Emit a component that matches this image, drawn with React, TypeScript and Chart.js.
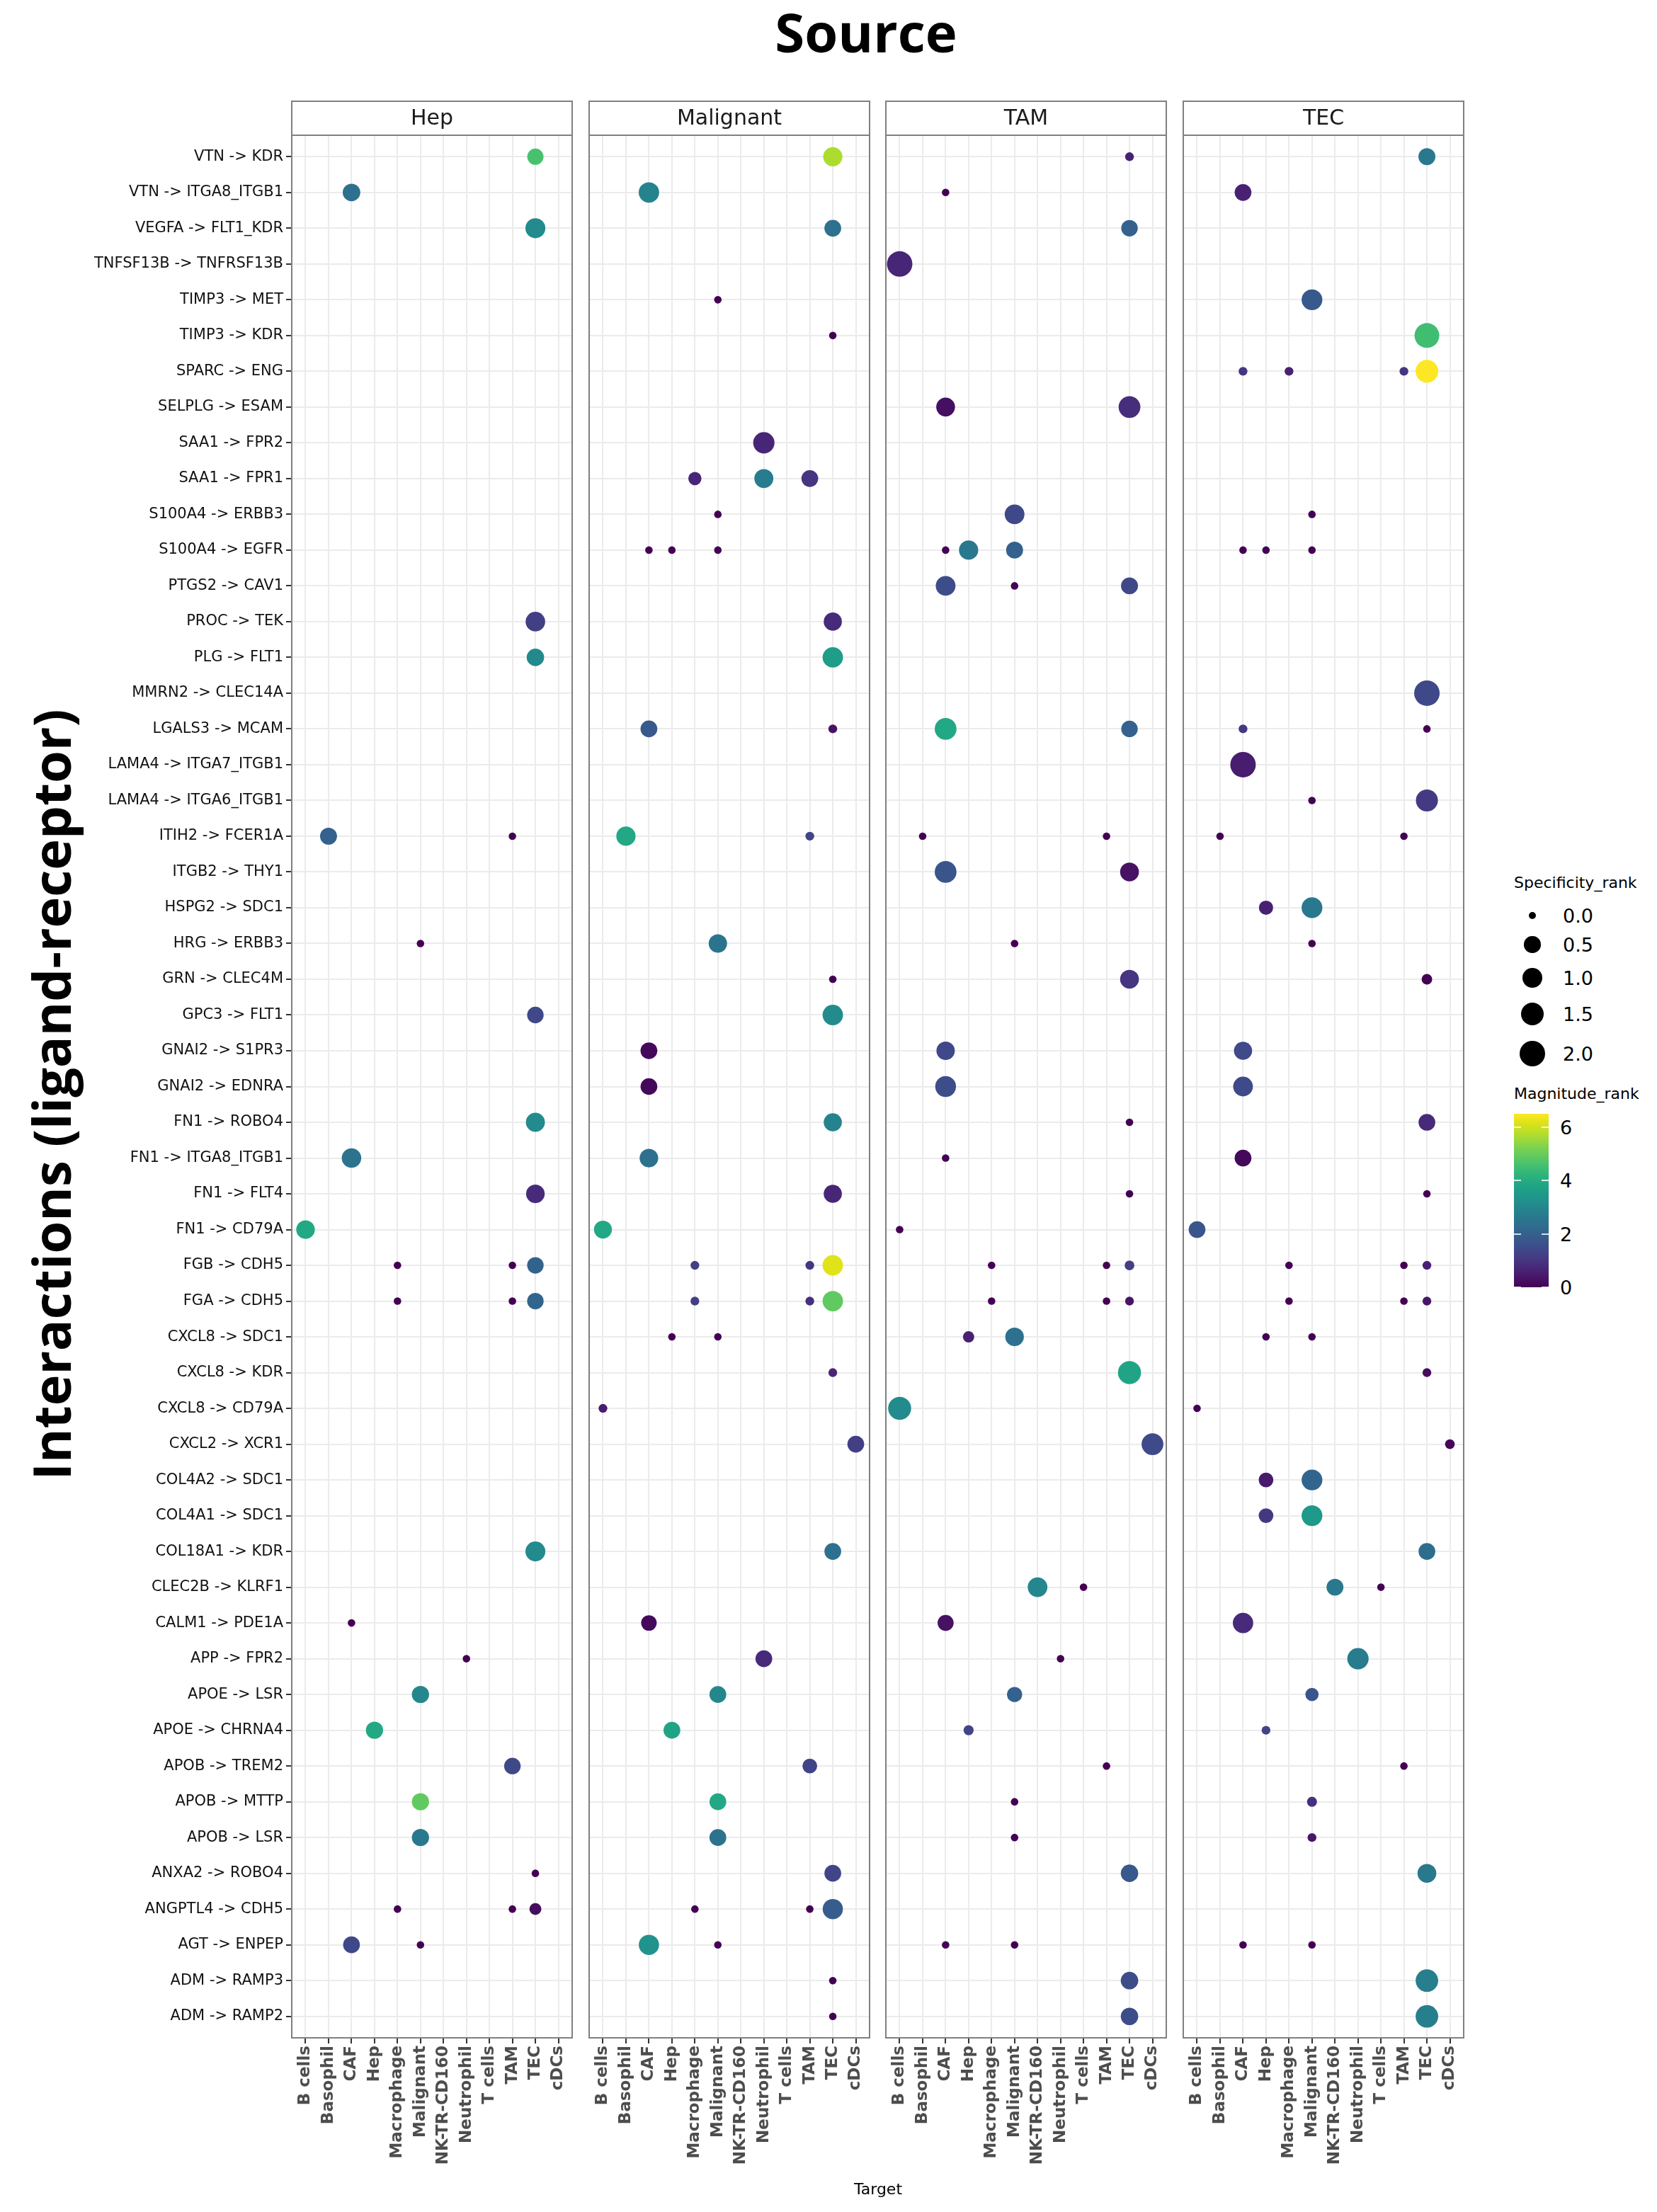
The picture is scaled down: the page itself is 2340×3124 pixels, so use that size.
import React, { useEffect, useRef } from "react";
import { Chart, registerables } from "chart.js";

Chart.register(...registerables);

// ---------------- data ----------------
const targets = [
  "B cells", "Basophil", "CAF", "Hep", "Macrophage", "Malignant",
  "NK-TR-CD160", "Neutrophil", "T cells", "TAM", "TEC", "cDCs",
];

const interactions = [
  "VTN -> KDR", "VTN -> ITGA8_ITGB1", "VEGFA -> FLT1_KDR", "TNFSF13B -> TNFRSF13B",
  "TIMP3 -> MET", "TIMP3 -> KDR", "SPARC -> ENG", "SELPLG -> ESAM", "SAA1 -> FPR2",
  "SAA1 -> FPR1", "S100A4 -> ERBB3", "S100A4 -> EGFR", "PTGS2 -> CAV1", "PROC -> TEK",
  "PLG -> FLT1", "MMRN2 -> CLEC14A", "LGALS3 -> MCAM", "LAMA4 -> ITGA7_ITGB1",
  "LAMA4 -> ITGA6_ITGB1", "ITIH2 -> FCER1A", "ITGB2 -> THY1", "HSPG2 -> SDC1",
  "HRG -> ERBB3", "GRN -> CLEC4M", "GPC3 -> FLT1", "GNAI2 -> S1PR3", "GNAI2 -> EDNRA",
  "FN1 -> ROBO4", "FN1 -> ITGA8_ITGB1", "FN1 -> FLT4", "FN1 -> CD79A", "FGB -> CDH5",
  "FGA -> CDH5", "CXCL8 -> SDC1", "CXCL8 -> KDR", "CXCL8 -> CD79A", "CXCL2 -> XCR1",
  "COL4A2 -> SDC1", "COL4A1 -> SDC1", "COL18A1 -> KDR", "CLEC2B -> KLRF1",
  "CALM1 -> PDE1A", "APP -> FPR2", "APOE -> LSR", "APOE -> CHRNA4", "APOB -> TREM2",
  "APOB -> MTTP", "APOB -> LSR", "ANXA2 -> ROBO4", "ANGPTL4 -> CDH5", "AGT -> ENPEP",
  "ADM -> RAMP3", "ADM -> RAMP2",
];

const sources = ["Hep", "Malignant", "TAM", "TEC"];

// [interaction, target, Specificity_rank, Magnitude_rank]
type Pt = [string, string, number, number];

const hepPoints: Pt[] = [
  ["VTN -> KDR", "TEC", 0.47, 4.6],
  ["VTN -> ITGA8_ITGB1", "CAF", 0.63, 2.4],
  ["VEGFA -> FLT1_KDR", "TEC", 0.96, 3.1],
  ["PROC -> TEK", "TEC", 0.9, 1.2],
  ["PLG -> FLT1", "TEC", 0.61, 3.05],
  ["ITIH2 -> FCER1A", "Basophil", 0.55, 2.0],
  ["ITIH2 -> FCER1A", "TAM", 0, 0],
  ["HRG -> ERBB3", "Malignant", 0, 0],
  ["GPC3 -> FLT1", "TEC", 0.5, 1.4],
  ["FN1 -> ROBO4", "TEC", 0.82, 3.1],
  ["FN1 -> ITGA8_ITGB1", "CAF", 0.89, 2.5],
  ["FN1 -> FLT4", "TEC", 0.76, 0.8],
  ["FN1 -> CD79A", "B cells", 0.76, 3.9],
  ["FGB -> CDH5", "Macrophage", 0, 0],
  ["FGB -> CDH5", "TAM", 0, 0],
  ["FGB -> CDH5", "TEC", 0.5, 2.05],
  ["FGA -> CDH5", "Macrophage", 0, 0],
  ["FGA -> CDH5", "TAM", 0, 0],
  ["FGA -> CDH5", "TEC", 0.5, 2.1],
  ["COL18A1 -> KDR", "TEC", 0.96, 3.1],
  ["CALM1 -> PDE1A", "CAF", 0, 0],
  ["APP -> FPR2", "Neutrophil", 0, 0],
  ["APOE -> LSR", "Malignant", 0.58, 3.0],
  ["APOE -> CHRNA4", "Hep", 0.58, 3.9],
  ["APOB -> TREM2", "TAM", 0.5, 1.4],
  ["APOB -> MTTP", "Malignant", 0.58, 4.9],
  ["APOB -> LSR", "Malignant", 0.58, 2.6],
  ["ANXA2 -> ROBO4", "TEC", 0, 0],
  ["ANGPTL4 -> CDH5", "Macrophage", 0, 0],
  ["ANGPTL4 -> CDH5", "TAM", 0, 0],
  ["ANGPTL4 -> CDH5", "TEC", 0.12, 0.2],
  ["AGT -> ENPEP", "CAF", 0.53, 1.4],
  ["AGT -> ENPEP", "Malignant", 0, 0],
];

const malignantPoints: Pt[] = [
  ["VTN -> KDR", "TEC", 0.85, 5.7],
  ["VTN -> ITGA8_ITGB1", "CAF", 1.03, 2.9],
  ["VEGFA -> FLT1_KDR", "TEC", 0.53, 2.4],
  ["TIMP3 -> MET", "Malignant", 0, 0],
  ["TIMP3 -> KDR", "TEC", 0, 0],
  ["SAA1 -> FPR2", "Neutrophil", 1.18, 0.7],
  ["SAA1 -> FPR1", "Macrophage", 0.2, 0.7],
  ["SAA1 -> FPR1", "Neutrophil", 0.82, 2.7],
  ["SAA1 -> FPR1", "TAM", 0.53, 1.0],
  ["S100A4 -> ERBB3", "Malignant", 0, 0],
  ["S100A4 -> EGFR", "CAF", 0, 0],
  ["S100A4 -> EGFR", "Hep", 0, 0],
  ["S100A4 -> EGFR", "Malignant", 0, 0],
  ["PROC -> TEK", "TEC", 0.7, 0.8],
  ["PLG -> FLT1", "TEC", 1.03, 3.6],
  ["LGALS3 -> MCAM", "CAF", 0.53, 1.8],
  ["LGALS3 -> MCAM", "TEC", 0.01, 0.3],
  ["ITIH2 -> FCER1A", "Basophil", 0.85, 3.9],
  ["ITIH2 -> FCER1A", "TAM", 0.01, 1.3],
  ["HRG -> ERBB3", "Malignant", 0.73, 2.5],
  ["GRN -> CLEC4M", "TEC", 0, 0],
  ["GPC3 -> FLT1", "TEC", 1.03, 3.1],
  ["GNAI2 -> S1PR3", "CAF", 0.53, 0.15],
  ["GNAI2 -> EDNRA", "CAF", 0.53, 0.15],
  ["FN1 -> ROBO4", "TEC", 0.7, 2.9],
  ["FN1 -> ITGA8_ITGB1", "CAF", 0.76, 2.4],
  ["FN1 -> FLT4", "TEC", 0.7, 0.7],
  ["FN1 -> CD79A", "B cells", 0.67, 3.9],
  ["FGB -> CDH5", "Macrophage", 0.01, 1.2],
  ["FGB -> CDH5", "TAM", 0.01, 1.0],
  ["FGB -> CDH5", "TEC", 1.03, 6.2],
  ["FGA -> CDH5", "Macrophage", 0.01, 1.2],
  ["FGA -> CDH5", "TAM", 0.01, 0.9],
  ["FGA -> CDH5", "TEC", 1.03, 4.9],
  ["CXCL8 -> SDC1", "Hep", 0, 0],
  ["CXCL8 -> SDC1", "Malignant", 0, 0],
  ["CXCL8 -> KDR", "TEC", 0.01, 0.7],
  ["CXCL8 -> CD79A", "B cells", 0.01, 0.5],
  ["CXCL2 -> XCR1", "cDCs", 0.53, 1.2],
  ["COL18A1 -> KDR", "TEC", 0.53, 2.4],
  ["CALM1 -> PDE1A", "CAF", 0.4, 0.15],
  ["APP -> FPR2", "Neutrophil", 0.53, 0.8],
  ["APOE -> LSR", "Malignant", 0.53, 3.0],
  ["APOE -> CHRNA4", "Hep", 0.53, 3.8],
  ["APOB -> TREM2", "TAM", 0.32, 1.3],
  ["APOB -> MTTP", "Malignant", 0.53, 3.9],
  ["APOB -> LSR", "Malignant", 0.53, 2.4],
  ["ANXA2 -> ROBO4", "TEC", 0.53, 1.3],
  ["ANGPTL4 -> CDH5", "Macrophage", 0, 0],
  ["ANGPTL4 -> CDH5", "TAM", 0, 0],
  ["ANGPTL4 -> CDH5", "TEC", 1.0, 1.9],
  ["AGT -> ENPEP", "CAF", 1.0, 3.3],
  ["AGT -> ENPEP", "Malignant", 0, 0],
  ["ADM -> RAMP3", "TEC", 0, 0],
  ["ADM -> RAMP2", "TEC", 0, 0],
];

const tamPoints: Pt[] = [
  ["VTN -> KDR", "TEC", 0.01, 0.6],
  ["VTN -> ITGA8_ITGB1", "CAF", 0, 0],
  ["VEGFA -> FLT1_KDR", "TEC", 0.5, 2.0],
  ["TNFSF13B -> TNFRSF13B", "B cells", 2.0, 0.7],
  ["SELPLG -> ESAM", "CAF", 0.79, 0.25],
  ["SELPLG -> ESAM", "TEC", 1.26, 0.85],
  ["S100A4 -> ERBB3", "Malignant", 0.92, 1.4],
  ["S100A4 -> EGFR", "CAF", 0, 0],
  ["S100A4 -> EGFR", "Hep", 0.85, 2.6],
  ["S100A4 -> EGFR", "Malignant", 0.55, 2.0],
  ["PTGS2 -> CAV1", "CAF", 0.92, 1.5],
  ["PTGS2 -> CAV1", "Malignant", 0, 0],
  ["PTGS2 -> CAV1", "TEC", 0.55, 1.4],
  ["LGALS3 -> MCAM", "CAF", 1.26, 3.9],
  ["LGALS3 -> MCAM", "TEC", 0.5, 2.0],
  ["ITIH2 -> FCER1A", "Basophil", 0, 0],
  ["ITIH2 -> FCER1A", "TAM", 0, 0],
  ["ITGB2 -> THY1", "CAF", 1.26, 1.7],
  ["ITGB2 -> THY1", "TEC", 0.79, 0.3],
  ["HRG -> ERBB3", "Malignant", 0, 0],
  ["GRN -> CLEC4M", "TEC", 0.79, 1.0],
  ["GNAI2 -> S1PR3", "CAF", 0.73, 1.4],
  ["GNAI2 -> EDNRA", "CAF", 1.09, 1.5],
  ["FN1 -> ROBO4", "TEC", 0, 0],
  ["FN1 -> ITGA8_ITGB1", "CAF", 0, 0],
  ["FN1 -> FLT4", "TEC", 0, 0],
  ["FN1 -> CD79A", "B cells", 0, 0],
  ["FGB -> CDH5", "Macrophage", 0, 0],
  ["FGB -> CDH5", "TAM", 0, 0],
  ["FGB -> CDH5", "TEC", 0.03, 1.2],
  ["FGA -> CDH5", "Macrophage", 0, 0],
  ["FGA -> CDH5", "TAM", 0, 0],
  ["FGA -> CDH5", "TEC", 0.01, 0.35],
  ["CXCL8 -> SDC1", "Hep", 0.09, 0.6],
  ["CXCL8 -> SDC1", "Malignant", 0.76, 2.4],
  ["CXCL8 -> KDR", "TEC", 1.5, 3.8],
  ["CXCL8 -> CD79A", "B cells", 1.48, 3.1],
  ["CXCL2 -> XCR1", "cDCs", 1.26, 1.45],
  ["CLEC2B -> KLRF1", "NK-TR-CD160", 0.92, 3.0],
  ["CLEC2B -> KLRF1", "T cells", 0, 0],
  ["CALM1 -> PDE1A", "CAF", 0.45, 0.3],
  ["APP -> FPR2", "Neutrophil", 0, 0],
  ["APOE -> LSR", "Malignant", 0.36, 2.0],
  ["APOE -> CHRNA4", "Hep", 0.04, 1.3],
  ["APOB -> TREM2", "TAM", 0, 0],
  ["APOB -> MTTP", "Malignant", 0, 0],
  ["APOB -> LSR", "Malignant", 0, 0],
  ["ANXA2 -> ROBO4", "TEC", 0.61, 1.8],
  ["AGT -> ENPEP", "CAF", 0, 0],
  ["AGT -> ENPEP", "Malignant", 0, 0],
  ["ADM -> RAMP3", "TEC", 0.61, 1.5],
  ["ADM -> RAMP2", "TEC", 0.61, 1.5],
];

const tecPoints: Pt[] = [
  ["VTN -> KDR", "TEC", 0.55, 2.6],
  ["VTN -> ITGA8_ITGB1", "CAF", 0.53, 0.6],
  ["TIMP3 -> MET", "Malignant", 1.09, 1.8],
  ["TIMP3 -> KDR", "TEC", 1.85, 4.5],
  ["SPARC -> ENG", "CAF", 0.01, 1.0],
  ["SPARC -> ENG", "Macrophage", 0.01, 0.6],
  ["SPARC -> ENG", "TAM", 0.01, 1.0],
  ["SPARC -> ENG", "TEC", 1.44, 6.5],
  ["S100A4 -> ERBB3", "Malignant", 0, 0],
  ["S100A4 -> EGFR", "CAF", 0, 0],
  ["S100A4 -> EGFR", "Hep", 0, 0],
  ["S100A4 -> EGFR", "Malignant", 0, 0],
  ["MMRN2 -> CLEC14A", "TEC", 2.0, 1.4],
  ["LGALS3 -> MCAM", "CAF", 0.01, 1.1],
  ["LGALS3 -> MCAM", "TEC", 0, 0],
  ["LAMA4 -> ITGA7_ITGB1", "CAF", 2.0, 0.5],
  ["LAMA4 -> ITGA6_ITGB1", "Malignant", 0, 0],
  ["LAMA4 -> ITGA6_ITGB1", "TEC", 1.3, 1.1],
  ["ITIH2 -> FCER1A", "Basophil", 0, 0],
  ["ITIH2 -> FCER1A", "TAM", 0, 0],
  ["HSPG2 -> SDC1", "Hep", 0.28, 0.6],
  ["HSPG2 -> SDC1", "Malignant", 1.09, 2.6],
  ["HRG -> ERBB3", "Malignant", 0, 0],
  ["GRN -> CLEC4M", "TEC", 0.06, 0],
  ["GNAI2 -> S1PR3", "CAF", 0.7, 1.45],
  ["GNAI2 -> EDNRA", "CAF", 0.92, 1.45],
  ["FN1 -> ROBO4", "TEC", 0.53, 0.8],
  ["FN1 -> ITGA8_ITGB1", "CAF", 0.53, 0.15],
  ["FN1 -> FLT4", "TEC", 0, 0],
  ["FN1 -> CD79A", "B cells", 0.53, 1.7],
  ["FGB -> CDH5", "Macrophage", 0, 0],
  ["FGB -> CDH5", "TAM", 0, 0],
  ["FGB -> CDH5", "TEC", 0.01, 0.6],
  ["FGA -> CDH5", "Macrophage", 0, 0],
  ["FGA -> CDH5", "TAM", 0, 0],
  ["FGA -> CDH5", "TEC", 0.01, 0.4],
  ["CXCL8 -> SDC1", "Hep", 0, 0],
  ["CXCL8 -> SDC1", "Malignant", 0, 0],
  ["CXCL8 -> KDR", "TEC", 0.01, 0.2],
  ["CXCL8 -> CD79A", "B cells", 0, 0],
  ["CXCL2 -> XCR1", "cDCs", 0.03, 0.1],
  ["COL4A2 -> SDC1", "Hep", 0.32, 0.45],
  ["COL4A2 -> SDC1", "Malignant", 1.09, 2.1],
  ["COL4A1 -> SDC1", "Hep", 0.32, 1.05],
  ["COL4A1 -> SDC1", "Malignant", 1.09, 3.5],
  ["COL18A1 -> KDR", "TEC", 0.53, 2.3],
  ["CLEC2B -> KLRF1", "NK-TR-CD160", 0.55, 2.6],
  ["CLEC2B -> KLRF1", "T cells", 0, 0],
  ["CALM1 -> PDE1A", "CAF", 1.03, 0.8],
  ["APP -> FPR2", "Neutrophil", 1.18, 2.7],
  ["APOE -> LSR", "Malignant", 0.2, 1.7],
  ["APOE -> CHRNA4", "Hep", 0.01, 1.3],
  ["APOB -> TREM2", "TAM", 0, 0],
  ["APOB -> MTTP", "Malignant", 0.04, 0.9],
  ["APOB -> LSR", "Malignant", 0.01, 0.4],
  ["ANXA2 -> ROBO4", "TEC", 0.79, 2.6],
  ["AGT -> ENPEP", "CAF", 0, 0],
  ["AGT -> ENPEP", "Malignant", 0, 0],
  ["ADM -> RAMP3", "TEC", 1.4, 2.8],
  ["ADM -> RAMP2", "TEC", 1.4, 2.8],
];

const panelPoints: Pt[][] = [hepPoints, malignantPoints, tamPoints, tecPoints];

const sizeBreaks = [0, 0.5, 1, 1.5, 2];
const colorBreaks = [0, 2, 4, 6];
const MAG_MAX = 6.5;

// ---------------- styling helpers ----------------
const VIRIDIS = [
  "#440154", "#471365", "#482475", "#463480", "#414487", "#3b528b", "#355f8d",
  "#2f6c8e", "#2a788e", "#25848e", "#21918c", "#1e9c89", "#22a884", "#2fb47c",
  "#44bf70", "#5ec962", "#7ad151", "#9bd93c", "#bddf26", "#dfe318", "#fde725",
];

function hexToRgb(h: string) {
  return [parseInt(h.slice(1, 3), 16), parseInt(h.slice(3, 5), 16), parseInt(h.slice(5, 7), 16)];
}

function viridis(t: number) {
  const c = Math.min(1, Math.max(0, t)) * (VIRIDIS.length - 1);
  const i = Math.min(Math.floor(c), VIRIDIS.length - 2);
  const f = c - i;
  const a = hexToRgb(VIRIDIS[i]);
  const b = hexToRgb(VIRIDIS[i + 1]);
  const m = a.map((v, k) => Math.round(v + (b[k] - v) * f));
  return `rgb(${m[0]},${m[1]},${m[2]})`;
}

const radius = (v: number) => 5.3 + 12.7 * Math.sqrt(Math.max(0, v) / 2);

const PANEL_LEFTS = [412, 832, 1251, 1671];
const PANEL_W = 396;
const PLOT_TOP = 191;
const PLOT_BOTTOM = 2878;
const STRIP_H = 48;
const CANVAS_TOP = 139;
const X_AXIS_H = 220;
const PAD = 20;

const panelDecor = (label: string) => ({
  id: "panelDecor",
  afterDraw(chart: any) {
    const { ctx, chartArea: a } = chart;
    const w = a.right - a.left;
    ctx.save();
    ctx.strokeStyle = "#808080";
    ctx.lineWidth = 2;
    ctx.strokeRect(a.left, a.top, w, a.bottom - a.top);
    ctx.fillStyle = "#ffffff";
    ctx.fillRect(a.left, a.top - STRIP_H, w, STRIP_H);
    ctx.strokeRect(a.left, a.top - STRIP_H, w, STRIP_H);
    ctx.fillStyle = "#1a1a1a";
    ctx.font = '30px "DejaVu Sans"';
    ctx.textAlign = "center";
    ctx.textBaseline = "middle";
    ctx.fillText(label, (a.left + a.right) / 2, a.top - STRIP_H / 2 + 1);
    ctx.restore();
  },
});

function Panel({ index }: { index: number }) {
  const ref = useRef<HTMLCanvasElement>(null);
  const first = index === 0;
  const canvasLeft = first ? 0 : PANEL_LEFTS[index] - PAD;
  const canvasW = first ? PANEL_LEFTS[0] + PANEL_W + PAD : PANEL_W + 2 * PAD;
  const canvasH = PLOT_BOTTOM - CANVAS_TOP + X_AXIS_H;

  useEffect(() => {
    const pts = panelPoints[index];
    const chart = new Chart(ref.current as HTMLCanvasElement, {
      type: "bubble",
      data: {
        datasets: [
          {
            data: pts.map((p) => ({
              x: targets.indexOf(p[1]),
              y: interactions.indexOf(p[0]),
              r: radius(p[2]),
            })),
            backgroundColor: pts.map((p) => viridis(p[3] / MAG_MAX)),
            borderWidth: 0,
            hoverBorderWidth: 0,
          },
        ],
      },
      options: {
        responsive: false,
        animation: false,
        events: [],
        layout: {
          padding: { left: first ? 0 : PAD, right: PAD, top: PLOT_TOP - CANVAS_TOP, bottom: 0 },
        },
        plugins: { legend: { display: false }, tooltip: { enabled: false } },
        scales: {
          x: {
            type: "linear",
            min: -0.6,
            max: targets.length - 1 + 0.6,
            afterBuildTicks: (s: any) => {
              s.ticks = targets.map((_, i) => ({ value: i }));
            },
            afterFit: (s: any) => {
              s.height = X_AXIS_H;
            },
            ticks: {
              autoSkip: false,
              maxRotation: 90,
              minRotation: 90,
              padding: 3,
              color: "#4d4d4d",
              font: { family: "DejaVu Sans", size: 23, weight: "bold" },
              callback: (v: any) => targets[Math.round(Number(v))] ?? "",
            },
            grid: {
              color: "#ebebeb",
              lineWidth: 2,
              drawTicks: true,
              tickLength: 8,
              tickColor: "#333333",
              tickWidth: 2,
            },
            border: { display: false },
          },
          y: {
            type: "linear",
            reverse: true,
            min: -0.6,
            max: interactions.length - 1 + 0.6,
            afterBuildTicks: (s: any) => {
              s.ticks = interactions.map((_, i) => ({ value: i }));
            },
            afterFit: (s: any) => {
              s.width = first ? PANEL_LEFTS[0] : 0;
            },
            ticks: {
              display: first,
              autoSkip: false,
              padding: 4,
              color: "#111111",
              font: { family: "DejaVu Sans", size: 21 },
              callback: (v: any) => interactions[Math.round(Number(v))] ?? "",
            },
            grid: {
              color: "#ebebeb",
              lineWidth: 2,
              drawTicks: first,
              tickLength: 8,
              tickColor: "#333333",
              tickWidth: 2,
            },
            border: { display: false },
          },
        },
      } as any,
      plugins: [panelDecor(sources[index])],
    });
    return () => chart.destroy();
  }, [index]);

  return (
    <canvas
      ref={ref}
      width={canvasW}
      height={canvasH}
      style={{ position: "absolute", left: canvasLeft, top: CANVAS_TOP, width: canvasW, height: canvasH }}
    />
  );
}

function Text(props: {
  x: number;
  y: number;
  children: React.ReactNode;
  size: number;
  bold?: boolean;
  family?: string;
  align?: "center" | "left";
  rotate?: boolean;
  color?: string;
}) {
  const { x, y, size, bold, family, align = "center", rotate, color = "#000" } = props;
  const tx = align === "center" ? "-50%" : "0";
  return (
    <div
      style={{
        position: "absolute",
        left: x,
        top: y,
        transform: `translate(${tx}, -50%)${rotate ? " rotate(-90deg)" : ""}`,
        transformOrigin: rotate ? "50% 50%" : undefined,
        fontFamily: family ?? '"DejaVu Sans"',
        fontSize: size,
        fontWeight: bold ? 700 : 400,
        lineHeight: 1,
        whiteSpace: "nowrap",
        color,
      }}
    >
      {props.children}
    </div>
  );
}

function Legend() {
  const sizeYs = [1293, 1334, 1381, 1432, 1488];
  const barTop = 1573;
  const barH = 245;
  const barLeft = 2138;
  const barW = 49;
  const grad = `linear-gradient(to top, ${VIRIDIS.join(", ")})`;
  return (
    <>
      <Text x={2138} y={1247} size={22} align="left">Specificity_rank</Text>
      {sizeBreaks.map((v, i) => {
        const r = radius(v);
        return (
          <React.Fragment key={v}>
            <div
              style={{
                position: "absolute",
                left: 2164 - r,
                top: sizeYs[i] - r,
                width: 2 * r,
                height: 2 * r,
                borderRadius: "50%",
                background: "#000",
              }}
            />
            <Text x={2207} y={sizeYs[i]} size={27} align="left">{v.toFixed(1)}</Text>
          </React.Fragment>
        );
      })}
      <Text x={2138} y={1545} size={22} align="left">Magnitude_rank</Text>
      <div style={{ position: "absolute", left: barLeft, top: barTop, width: barW, height: barH, background: grad }} />
      {colorBreaks.map((v) => {
        const y = barTop + barH - (v / MAG_MAX) * barH;
        return (
          <React.Fragment key={v}>
            <div style={{ position: "absolute", left: barLeft, top: y - 1, width: 10, height: 2, background: "rgba(255,255,255,0.8)" }} />
            <div style={{ position: "absolute", left: barLeft + barW - 10, top: y - 1, width: 10, height: 2, background: "rgba(255,255,255,0.8)" }} />
            <Text x={2203} y={y} size={27} align="left">{String(v)}</Text>
          </React.Fragment>
        );
      })}
    </>
  );
}

export default function App() {
  return (
    <div
      style={{
        position: "absolute",
        left: 0,
        top: 0,
        width: 2340,
        height: 3124,
        background: "#ffffff",
        overflow: "hidden",
      }}
    >
      <Text x={1223} y={45} size={76} bold family='"Open Sans"'>Source</Text>
      <Text x={72} y={1546} size={74} bold family='"Open Sans"' rotate>
        Interactions (ligand-receptor)
      </Text>
      {sources.map((s, i) => (
        <Panel key={s} index={i} />
      ))}
      <Text x={1240} y={3092} size={22}>Target</Text>
      <Legend />
    </div>
  );
}
